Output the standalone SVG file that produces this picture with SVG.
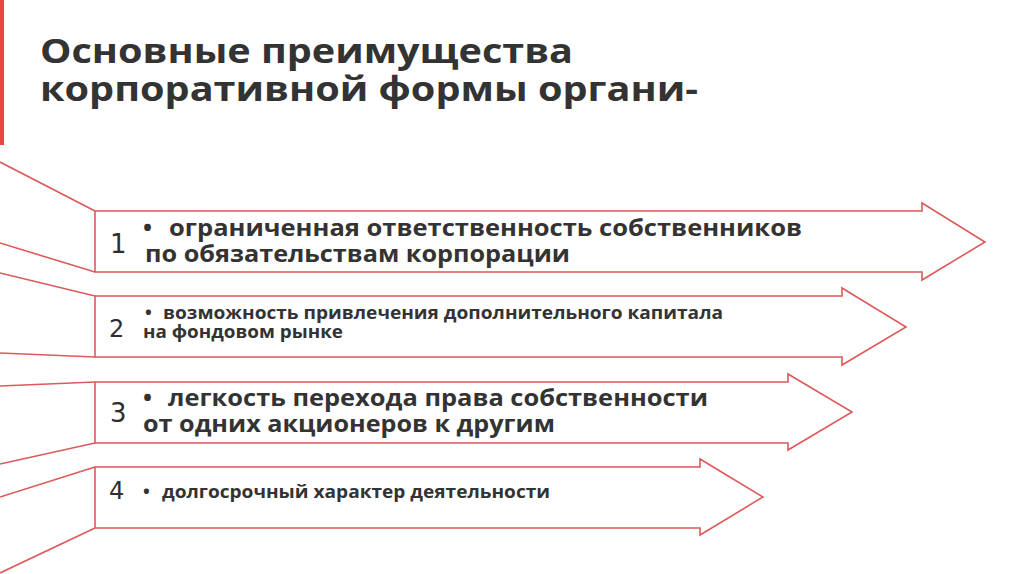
<svg xmlns="http://www.w3.org/2000/svg" width="1024" height="574" viewBox="0 0 1024 574">
  <defs>
    <style>
      .arrow { fill: #ffffff; stroke: #dc5a5a; stroke-width: 1.6; stroke-linejoin: miter; }
      .line { stroke: #dc5a5a; stroke-width: 1.6; fill: none; }
      .title { font-family: "Open Sans", "Noto Sans", sans-serif; font-weight: 700; font-size: 34px; fill: #333333; }
      .num { font-family: "DejaVu Sans", "Noto Sans", sans-serif; font-weight: 400; fill: #2e2e2e; }
      .big { font-family: "Open Sans", "Noto Sans", sans-serif; font-weight: 700; font-size: 24px; fill: #333333; }
      .small { font-family: "Open Sans", "Noto Sans", sans-serif; font-weight: 700; font-size: 18px; fill: #333333; }
    </style>
    <clipPath id="titleClip">
      <rect x="0" y="0" width="1024" height="110"/>
    </clipPath>
  </defs>
  <rect x="0" y="0" width="1024" height="574" fill="#ffffff"/>
  <rect id="accent-bar" x="0" y="0" width="4" height="145" fill="#e8473f"/>

  <g id="title" clip-path="url(#titleClip)">
    <text class="title" x="40" y="63" textLength="533" lengthAdjust="spacingAndGlyphs">Основные преимущества</text>
    <text class="title" x="40" y="101" textLength="658" lengthAdjust="spacingAndGlyphs">корпоративной формы органи-</text>
  </g>

  <g id="connectors">
    <line class="line" x1="0" y1="162" x2="95" y2="211"/>
    <line class="line" x1="0" y1="243" x2="95" y2="272"/>
    <line class="line" x1="0" y1="273" x2="95" y2="296"/>
    <line class="line" x1="0" y1="353" x2="95" y2="357"/>
    <line class="line" x1="0" y1="386" x2="95" y2="382"/>
    <line class="line" x1="0" y1="464" x2="95" y2="443"/>
    <line class="line" x1="0" y1="497" x2="95" y2="467"/>
    <line class="line" x1="0" y1="573" x2="95" y2="528"/>
  </g>

  <g id="item1">
    <polygon class="arrow" points="95,211 922,211 922,203 985,242 922,280 922,272 95,272"/>
    <text class="num" x="110" y="253" font-size="26">1</text>
    <text class="big" x="143" y="236">•</text>
    <text class="big" x="169" y="236" textLength="633" lengthAdjust="spacingAndGlyphs">ограниченная ответственность собственников</text>
    <text class="big" x="145" y="262" textLength="425" lengthAdjust="spacingAndGlyphs">по обязательствам корпорации</text>
  </g>

  <g id="item2">
    <polygon class="arrow" points="95,296 842,296 842,288 906,327 842,365 842,357 95,357"/>
    <text class="num" x="109" y="337" font-size="24">2</text>
    <text class="small" x="145" y="319">•</text>
    <text class="small" x="163" y="319" textLength="560" lengthAdjust="spacingAndGlyphs">возможность привлечения дополнительного капитала</text>
    <text class="small" x="143" y="338" textLength="200" lengthAdjust="spacingAndGlyphs">на фондовом рынке</text>
  </g>

  <g id="item3">
    <polygon class="arrow" points="95,382 788,382 788,374 852,412 788,450 788,443 95,443"/>
    <text class="num" x="110" y="422" font-size="26">3</text>
    <text class="big" x="143" y="406">•</text>
    <text class="big" x="168" y="406" textLength="540" lengthAdjust="spacingAndGlyphs">легкость перехода права собственности</text>
    <text class="big" x="143" y="432" textLength="412" lengthAdjust="spacingAndGlyphs">от одних акционеров к другим</text>
  </g>

  <g id="item4">
    <polygon class="arrow" points="95,467 700,467 700,459 763,497 700,535 700,528 95,528"/>
    <text class="num" x="109" y="499" font-size="24">4</text>
    <text class="small" x="143" y="498">•</text>
    <text class="small" x="162" y="498" textLength="388" lengthAdjust="spacingAndGlyphs">долгосрочный характер деятельности</text>
  </g>
</svg>
